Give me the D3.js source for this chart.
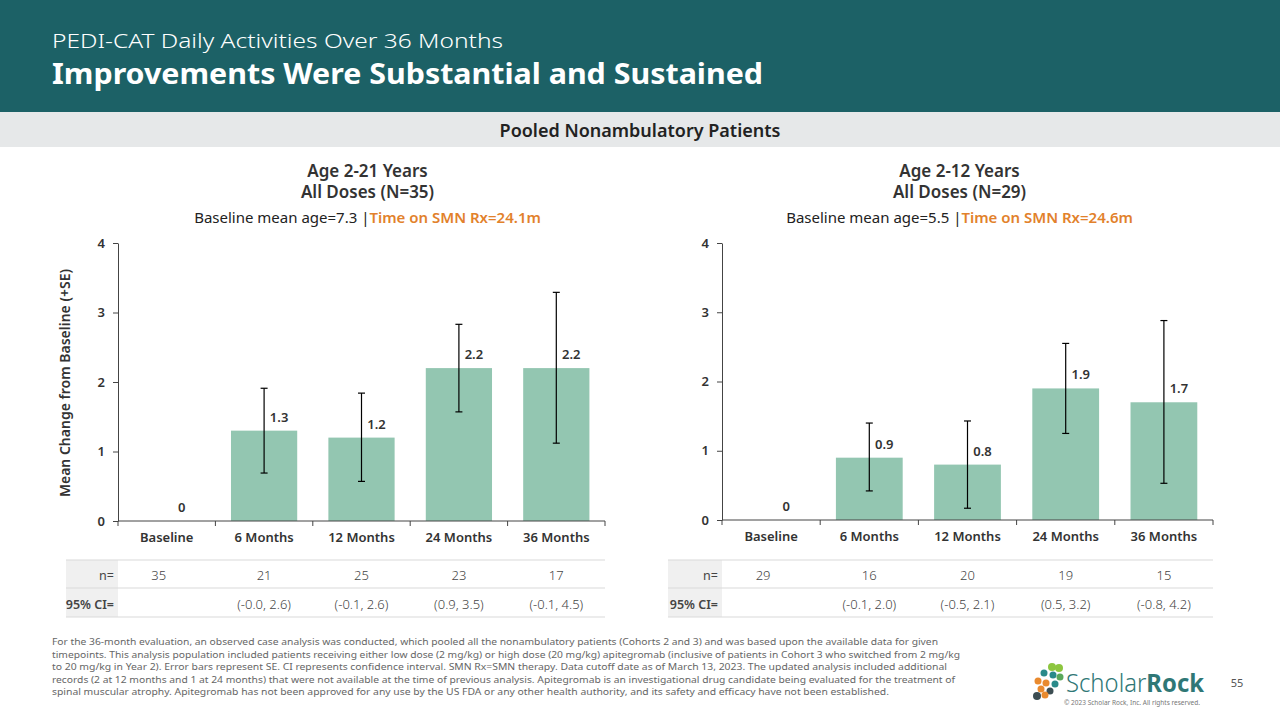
<!DOCTYPE html>
<html>
<head>
<meta charset="utf-8">
<script src="https://cdn.jsdelivr.net/npm/d3@7"></script>
<style>
  body { margin: 0; background: #fff; }
  svg { display: block; font-family: "Noto Sans", "Open Sans", sans-serif; }
</style>
</head>
<body>
<svg width="1280" height="720"></svg>
<script>
// chart data
const categories = ["Baseline", "6 Months", "12 Months", "24 Months", "36 Months"]
const yTicks = [0, 1, 2, 3, 4]

// Age 2-21, all doses
const meanAll = [0, 1.3, 1.2, 2.2, 2.2]
const errLowAll = [null, 0.69, 0.57, 1.57, 1.12]
const errHighAll = [null, 1.91, 1.84, 2.83, 3.29]
const nAll = ["35", "21", "25", "23", "17"]
const ciAll = ["", "(-0.0, 2.6)", "(-0.1, 2.6)", "(0.9, 3.5)", "(-0.1, 4.5)"]

// Age 2-12, all doses
const meanYoung = [0, 0.9, 0.8, 1.9, 1.7]
const errLowYoung = [null, 0.42, 0.17, 1.25, 0.53]
const errHighYoung = [null, 1.40, 1.43, 2.55, 2.88]
const nYoung = ["29", "16", "20", "19", "15"]
const ciYoung = ["", "(-0.1, 2.0)", "(-0.5, 2.1)", "(0.5, 3.2)", "(-0.8, 4.2)"]

const footnote = [
    "For the 36-month evaluation, an observed case analysis was conducted, which pooled all the nonambulatory patients (Cohorts 2 and 3) and was based upon the available data for given",
    "timepoints. This analysis population included patients receiving either low dose (2 mg/kg) or high dose (20 mg/kg) apitegromab (inclusive of patients in Cohort 3 who switched from 2 mg/kg",
    "to 20 mg/kg in Year 2). Error bars represent SE. CI represents confidence interval. SMN Rx=SMN therapy. Data cutoff date as of March 13, 2023. The updated analysis included additional",
    "records (2 at 12 months and 1 at 24 months) that were not available at the time of previous analysis. Apitegromab is an investigational drug candidate being evaluated for the treatment of",
    "spinal muscular atrophy. Apitegromab has not been approved for any use by the US FDA or any other health authority, and its safety and efficacy have not been established."
]
const footnoteWidths = [886, 908, 895, 903, 837]

const svg = d3.select("svg")
const teal = "#1c6166"
const barColor = "#93c6b1"
const orange = "#e2812b"
const textDark = "#333"

// header band
svg.append("rect").attr("x", 0).attr("y", 0).attr("width", 1280).attr("height", 112).attr("fill", teal)
svg.append("text")
    .attr("x", 52).attr("y", 48)
    .attr("fill", "#fff").attr("font-size", 20).attr("font-weight", 300)
    .attr("textLength", 451).attr("lengthAdjust", "spacingAndGlyphs")
    .text("PEDI-CAT Daily Activities Over 36 Months")
svg.append("text")
    .attr("x", 52).attr("y", 84)
    .attr("fill", "#fff").attr("font-size", 29).attr("font-weight", 700)
    .attr("textLength", 711).attr("lengthAdjust", "spacingAndGlyphs")
    .text("Improvements Were Substantial and Sustained")

// grey band
svg.append("rect").attr("x", 0).attr("y", 112).attr("width", 1280).attr("height", 35).attr("fill", "#e6e8e9")
svg.append("text")
    .attr("x", 640).attr("y", 137)
    .attr("text-anchor", "middle")
    .attr("fill", "#222").attr("font-size", 18).attr("font-weight", 600)
    .text("Pooled Nonambulatory Patients")

const drawPanel = function (opts) {
    const g = svg.append("g")

    const scaleX = d3.scaleBand()
        .domain(categories)
        .range([opts.x0, opts.x1])
        .paddingInner(0.32)
        .paddingOuter(0.16)
    const scaleY = d3.scaleLinear()
        .domain([0, 4])
        .range([opts.y0, 243])

    const mid = (opts.x0 + opts.x1) / 2 + opts.titleShift

    // titles
    g.append("text").attr("x", mid).attr("y", 177)
        .attr("text-anchor", "middle").attr("fill", textDark)
        .attr("font-size", 17).attr("font-weight", 600)
        .text(opts.title1)
    g.append("text").attr("x", mid).attr("y", 198)
        .attr("text-anchor", "middle").attr("fill", textDark)
        .attr("font-size", 17).attr("font-weight", 600)
        .text(opts.title2)
    const sub = g.append("text").attr("x", mid).attr("y", 223)
        .attr("text-anchor", "middle").attr("font-size", 15)
    sub.append("tspan").attr("fill", "#222").text(opts.subA)
    sub.append("tspan").attr("fill", orange).attr("font-weight", 600).text(opts.subB)

    // y axis
    const axisY = d3.axisLeft(scaleY)
        .tickValues(yTicks)
        .tickSizeInner(5)
        .tickSizeOuter(0)
        .tickPadding(8)
        .tickFormat(d3.format("d"))
    const gy = g.append("g")
        .attr("transform", `translate(${opts.x0}, 0)`)
        .call(axisY)
    gy.select(".domain").attr("stroke", "#444")
    gy.selectAll(".tick line").attr("stroke", "#444")
    gy.selectAll("text").attr("font-size", 13).attr("font-weight", 600).attr("fill", textDark)
        .attr("font-family", "Noto Sans")

    // bars
    const bw = scaleX.bandwidth()
    g.selectAll("rect.bar")
        .data(opts.means)
        .enter()
        .append("rect")
        .attr("class", "bar")
        .attr("x", (d, i) => scaleX(categories[i]))
        .attr("y", (d, i) => scaleY(d))
        .attr("width", bw)
        .attr("height", (d, i) => scaleY(0) - scaleY(d))
        .attr("fill", barColor)

    // error bars
    const errs = opts.means.map((d, i) => ({ i: i, lo: opts.errLow[i], hi: opts.errHigh[i] }))
        .filter(d => d.lo !== null)
    const eg = g.selectAll("g.err")
        .data(errs)
        .enter()
        .append("g")
        .attr("class", "err")
        .attr("transform", d => `translate(${scaleX(categories[d.i]) + bw / 2}, 0)`)
    eg.append("line").attr("x1", 0).attr("x2", 0)
        .attr("y1", d => scaleY(d.lo)).attr("y2", d => scaleY(d.hi))
        .attr("stroke", "#000").attr("stroke-width", 1.2)
    eg.append("line").attr("x1", -3.5).attr("x2", 3.5)
        .attr("y1", d => scaleY(d.hi)).attr("y2", d => scaleY(d.hi))
        .attr("stroke", "#000").attr("stroke-width", 1.2)
    eg.append("line").attr("x1", -3.5).attr("x2", 3.5)
        .attr("y1", d => scaleY(d.lo)).attr("y2", d => scaleY(d.lo))
        .attr("stroke", "#000").attr("stroke-width", 1.2)

    // value labels
    g.selectAll("text.val")
        .data(opts.means)
        .enter()
        .append("text")
        .attr("class", "val")
        .attr("x", (d, i) => scaleX(categories[i]) + bw / 2 + 15)
        .attr("y", (d, i) => scaleY(d) - 9)
        .attr("text-anchor", "middle")
        .attr("font-size", 13).attr("font-weight", 600).attr("fill", textDark)
        .text(d => d3.format("")(d))

    // x axis
    const axisX = d3.axisBottom(scaleX)
        .tickSize(0)
        .tickPadding(12)
    const gx = g.append("g")
        .attr("transform", `translate(0, ${opts.y0})`)
        .call(axisX)
    gx.select(".domain").remove()
    gx.selectAll("text").attr("font-size", 13).attr("font-weight", 600).attr("fill", textDark)
        .attr("font-family", "Noto Sans")
    g.append("line")
        .attr("x1", opts.x0).attr("x2", opts.x1)
        .attr("y1", opts.y0).attr("y2", opts.y0)
        .attr("stroke", "#444")
    const step = scaleX.step()
    const edges = d3.range(categories.length + 1).map(k => opts.x0 + k * step)
    g.selectAll("line.xtick")
        .data(edges)
        .enter()
        .append("line")
        .attr("class", "xtick")
        .attr("x1", d => d).attr("x2", d => d)
        .attr("y1", opts.y0).attr("y2", opts.y0 + 5)
        .attr("stroke", "#444")

    // table under the chart
    const tx0 = opts.tableX
    g.append("rect").attr("x", tx0).attr("y", 560).attr("width", opts.x0 - tx0).attr("height", 57)
        .attr("fill", "#f0f0f0")
    ;[560, 588, 617].forEach(yy => {
        g.append("line").attr("x1", tx0).attr("x2", opts.x1)
            .attr("y1", yy).attr("y2", yy)
            .attr("stroke", "#d9d9d9").attr("stroke-width", 1.2)
    })
    g.append("text").attr("x", opts.x0 - 4).attr("y", 580)
        .attr("text-anchor", "end").attr("font-size", 12.5).attr("fill", "#444")
        .text("n=")
    g.append("text").attr("x", opts.x0 - 4).attr("y", 609)
        .attr("text-anchor", "end").attr("font-size", 12.5).attr("font-weight", 600).attr("fill", "#444")
        .text("95% CI=")
    g.selectAll("text.nval")
        .data(opts.n)
        .enter()
        .append("text")
        .attr("class", "nval")
        .attr("x", (d, i) => scaleX(categories[i]) + bw / 2 - (i === 0 ? 8 : 0))
        .attr("y", 580)
        .attr("text-anchor", "middle").attr("font-size", 13).attr("font-weight", 300).attr("fill", "#444")
        .text(d => d)
    g.selectAll("text.cival")
        .data(opts.ci)
        .enter()
        .append("text")
        .attr("class", "cival")
        .attr("x", (d, i) => scaleX(categories[i]) + bw / 2)
        .attr("y", 609)
        .attr("text-anchor", "middle").attr("font-size", 13).attr("font-weight", 300).attr("fill", "#444")
        .text(d => d)
}

drawPanel({
    x0: 118, x1: 605, y0: 521, tableX: 66, titleShift: 6,
    title1: "Age 2-21 Years", title2: "All Doses (N=35)",
    subA: "Baseline mean age=7.3 |", subB: "Time on SMN Rx=24.1m",
    means: meanAll, errLow: errLowAll, errHigh: errHighAll, n: nAll, ci: ciAll
})
drawPanel({
    x0: 722, x1: 1213, y0: 520, tableX: 668, titleShift: -8,
    title1: "Age 2-12 Years", title2: "All Doses (N=29)",
    subA: "Baseline mean age=5.5 |", subB: "Time on SMN Rx=24.6m",
    means: meanYoung, errLow: errLowYoung, errHigh: errHighYoung, n: nYoung, ci: ciYoung
})

// y axis title (left panel only)
svg.append("text")
    .attr("transform", "translate(70, 383) rotate(-90)")
    .attr("text-anchor", "middle")
    .attr("font-size", 14).attr("font-weight", 600).attr("fill", textDark)
    .text("Mean Change from Baseline (+SE)")

// footnote
svg.selectAll("text.foot")
    .data(footnote)
    .enter()
    .append("text")
    .attr("class", "foot")
    .attr("x", 52)
    .attr("y", (d, i) => 645 + i * 12.5)
    .attr("font-size", 9.5).attr("fill", "#666")
    .attr("textLength", (d, i) => footnoteWidths[i])
    .attr("lengthAdjust", "spacingAndGlyphs")
    .text(d => d)

// logo
const logo = svg.append("g").attr("transform", "translate(1033, 664)")
const dots = [
    [19, 3, 4, "#8dc63f"], [26, 4, 4, "#8dc63f"], [11, 9, 3.5, "#2a8a8a"], [20, 11, 3.5, "#2a8a8a"],
    [27, 13, 3.5, "#5aa85a"], [5, 17, 3.5, "#e98a2e"], [13, 19, 3.5, "#e98a2e"], [22, 20, 3.5, "#2a8a8a"],
    [8, 25, 3.5, "#e98a2e"], [17, 27, 3.5, "#3c4d52"], [4, 32, 4, "#3c4d52"], [12, 31, 3.5, "#e98a2e"]
]
dots.forEach(d => {
    logo.append("circle").attr("cx", d[0]).attr("cy", d[1]).attr("r", d[2]).attr("fill", d[3])
})
const logoText = svg.append("text")
    .attr("x", 1066).attr("y", 692)
    .attr("font-size", 25).attr("fill", "#2f7776")
    .attr("textLength", 138).attr("lengthAdjust", "spacingAndGlyphs")
logoText.append("tspan").attr("font-weight", 300).text("Scholar")
logoText.append("tspan").attr("font-weight", 700).text("Rock")
svg.append("text")
    .attr("x", 1064).attr("y", 705)
    .attr("font-size", 6.5).attr("fill", "#777")
    .text("© 2023 Scholar Rock, Inc. All rights reserved.")
svg.append("text")
    .attr("x", 1237).attr("y", 687)
    .attr("text-anchor", "middle")
    .attr("font-size", 11).attr("fill", "#555")
    .text("55")
</script>
</body>
</html>
